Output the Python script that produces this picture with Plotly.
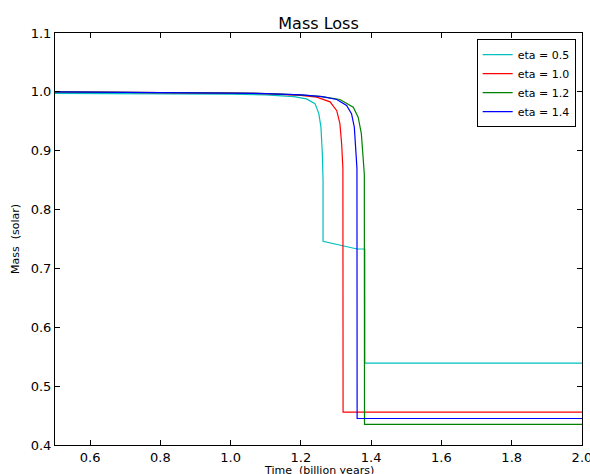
import plotly.graph_objects as go

# Stellar mass vs. time for several mass-loss efficiencies (eta)
t_eta05 = [0.5, 0.8, 1.0, 1.1, 1.18, 1.216, 1.240, 1.251, 1.257, 1.261, 1.263, 1.263, 1.36, 1.382, 1.382, 2.0]
m_eta05 = [0.9975, 0.9970, 0.9963, 0.9950, 0.9920, 0.988, 0.980, 0.963, 0.940, 0.895, 0.85, 0.746, 0.733, 0.733, 0.539, 0.539]

t_eta10 = [0.5, 0.8, 1.0, 1.1, 1.2, 1.245, 1.283, 1.302, 1.311, 1.316, 1.3195, 1.3200, 2.0]
m_eta10 = [1.0, 0.9995, 0.998, 0.997, 0.994, 0.991, 0.983, 0.968, 0.946, 0.911, 0.87, 0.456, 0.456]

t_eta12 = [0.5, 0.8, 1.0, 1.1, 1.2, 1.26, 1.311, 1.349, 1.363, 1.372, 1.377, 1.3805, 1.3810, 2.0]
m_eta12 = [1.0, 0.9995, 0.998, 0.997, 0.995, 0.992, 0.987, 0.974, 0.957, 0.929, 0.889, 0.86, 0.435, 0.435]

t_eta14 = [0.5, 0.8, 1.0, 1.1, 1.2, 1.26, 1.302, 1.330, 1.344, 1.352, 1.357, 1.3595, 1.3600, 2.0]
m_eta14 = [1.0, 0.9995, 0.998, 0.997, 0.995, 0.992, 0.987, 0.977, 0.963, 0.940, 0.895, 0.87, 0.445, 0.445]

series = [
    ("eta = 0.5", t_eta05, m_eta05, "#00bfbf"),
    ("eta = 1.0", t_eta10, m_eta10, "#ff0000"),
    ("eta = 1.2", t_eta12, m_eta12, "#008000"),
    ("eta = 1.4", t_eta14, m_eta14, "#0000ff"),
]

x_ticks = [0.6, 0.8, 1.0, 1.2, 1.4, 1.6, 1.8, 2.0]
y_ticks = [0.4, 0.5, 0.6, 0.7, 0.8, 0.9, 1.0, 1.1]

font = "DejaVu Sans"

fig = go.Figure()
for name, t, m, color in series:
    fig.add_trace(go.Scatter(x=t, y=m, mode="lines", name=name,
                             line=dict(color=color, width=1.2)))

axis_common = dict(
    showgrid=False, zeroline=False, automargin=False,
    showline=True, linecolor="black", linewidth=1, mirror="allticks",
    ticks="inside", ticklen=5, tickcolor="black", tickwidth=1,
    tickfont=dict(family=font, size=13, color="black"),
    tickformat=".1f", ticklabeloverflow="allow",
)

fig.update_layout(
    width=590, height=474,
    margin=dict(l=55, r=8, t=33, b=29),
    paper_bgcolor="white", plot_bgcolor="white",
    title=dict(text="Mass Loss", x=0.5, xanchor="center", xref="paper",
               y=1, yref="paper", yanchor="bottom", pad=dict(b=4),
               font=dict(family=font, size=16, color="black")),
    xaxis=dict(range=[0.5, 2.0001], tickvals=x_ticks, **axis_common),
    yaxis=dict(range=[0.4, 1.1], tickvals=y_ticks,
               title=dict(text="Mass  (solar)", standoff=8,
                          font=dict(family=font, size=11, color="black")),
               **axis_common),
    legend=dict(x=0.988, y=0.985, xanchor="right", yanchor="top",
                bgcolor="white", bordercolor="black", borderwidth=1,
                font=dict(family=font, size=11, color="black"),
                tracegroupgap=0, itemwidth=30),
    showlegend=True,
)

# x-axis title placed just below the tick labels
fig.add_annotation(text="Time  (billion years)", xref="paper", yref="paper",
                   x=0.5, y=0, yshift=-17, xanchor="center", yanchor="top",
                   showarrow=False,
                   font=dict(family=font, size=11, color="black"))

fig.write_html("out.html")
